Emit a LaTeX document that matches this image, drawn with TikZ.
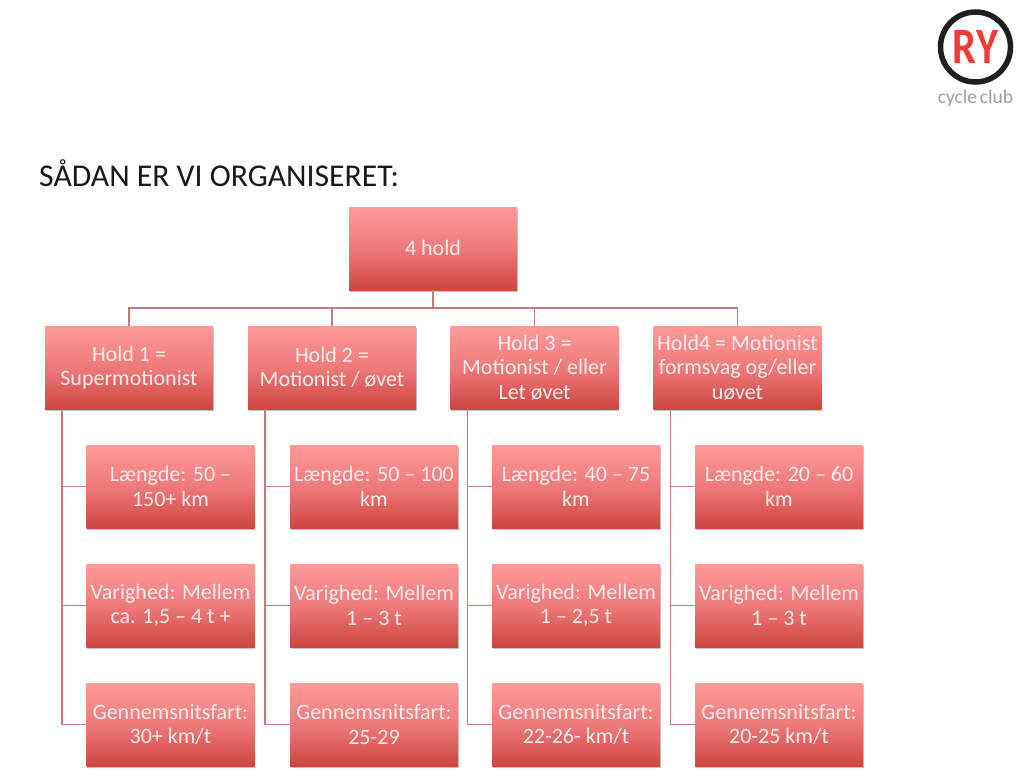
\documentclass[tikz,border=0pt]{standalone}
\usepackage{fontspec}
\usepackage{graphicx}
\setmainfont{Carlito}
\usetikzlibrary{shadows,calc}
\definecolor{boxtop}{HTML}{FF9A9A}
\definecolor{boxmid}{HTML}{EE7A7A}
\definecolor{boxbot}{HTML}{CE4540}
\definecolor{linkc}{HTML}{C77B7B}
\definecolor{txtc}{HTML}{FFEDED}
\definecolor{logored}{HTML}{EE3B36}
\tikzset{
  orgbox/.style={rectangle,minimum width=168pt,minimum height=83pt,inner sep=0pt,
    top color=boxtop,bottom color=boxbot,middle color=boxmid,
    draw=none,text=txtc,align=center,font=\fontsize{22}{24.5}\selectfont,
    drop shadow={shadow xshift=0.6pt,shadow yshift=-2.4pt,opacity=.3,fill=black!70}},
  link/.style={draw=linkc,line width=1.5pt},
}
\begin{document}
\begin{tikzpicture}[x=1pt,y=1pt]
\useasboundingbox (0,0) rectangle (1024,-770);
\fill[white] (0,0) rectangle (1024,-770);
\node[anchor=west,inner sep=0pt,font=\fontsize{31.7}{34}\selectfont,text=black!90] (title) at (39,-173) {SÅDAN ER VI ORGANISERET:};
% logo
\node[circle,draw=black!88,line width=5.5pt,minimum size=70pt,inner sep=0pt,text=logored,font=\fontsize{51}{51}\selectfont\bfseries] (logo) at (975.5,-47) {\scalebox{.83}[1]{RY}};
\node[inner sep=0pt,text=black!38,font=\fontsize{19.5}{20}\selectfont] (logotext) at (975.5,-98) {cycle\kern-1.5pt\ club};
% boxes
\node[orgbox] (top) at (433,-248.5) {\raisebox{1.5pt}{4 hold}};
\node[orgbox] (h1) at (129,-367.5) {Hold 1 =\\Supermotionist};
\node[orgbox] (h2) at (332,-367.5) {Hold 2 =\\Motionist / øvet};
\node[orgbox] (h3) at (534.5,-367.5) {Hold 3 =\\Motionist / eller\\Let øvet};
\node[orgbox] (h4) at (737.5,-367.5) {Hold4 = Motionist\\formsvag og/eller\\uøvet};
\node[orgbox] (a1) at (170.5,-486.5) {Længde: 50 –\\150+ km};
\node[orgbox] (b1) at (170.5,-605.5) {Varighed: Mellem\\ca. 1,5 – 4 t +};
\node[orgbox] (c1) at (170.5,-724.5) {Gennemsnitsfart:\\30+ km/t};
\node[orgbox] (a2) at (374,-486.5) {Længde: 50 – 100\\km};
\node[orgbox] (b2) at (374,-605.5) {Varighed: Mellem\\1 – 3 t};
\node[orgbox] (c2) at (374,-724.5) {Gennemsnitsfart:\\25-29};
\node[orgbox] (a3) at (576,-486.5) {Længde: 40 – 75\\km};
\node[orgbox] (b3) at (576,-605.5) {Varighed: Mellem\\1 – 2,5 t};
\node[orgbox] (c3) at (576,-724.5) {Gennemsnitsfart:\\22-26- km/t};
\node[orgbox] (a4) at (779,-486.5) {Længde: 20 – 60\\km};
\node[orgbox] (b4) at (779,-605.5) {Varighed: Mellem\\1 – 3 t};
\node[orgbox] (c4) at (779,-724.5) {Gennemsnitsfart:\\20-25 km/t};
% connectors
\foreach \h in {h1,h2,h3,h4}{
  \draw[link] (top.south) -- ($(top.south)!0.5!(top.south |- \h.north)$) -| (\h.north);
}
\foreach \h/\a/\b/\c in {h1/a1/b1/c1,h2/a2/b2/c2,h3/a3/b3/c3,h4/a4/b4/c4}{
  \draw[link] ([xshift=17pt]\h.south west) |- (\a.west);
  \draw[link] ([xshift=17pt]\h.south west) |- (\b.west);
  \draw[link] ([xshift=17pt]\h.south west) |- (\c.west);
}
\end{tikzpicture}
\end{document}
